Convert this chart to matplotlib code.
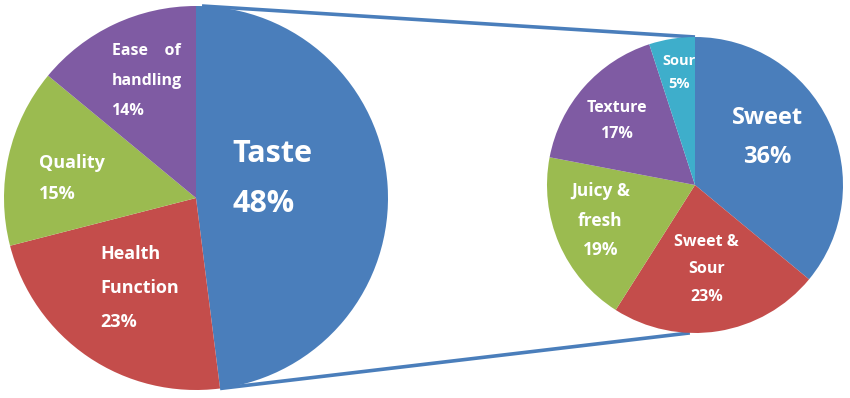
import matplotlib
matplotlib.use('Agg')
import matplotlib.pyplot as plt
import numpy as np

# left pie: reasons for purchase
main_labels = ['Taste', 'Health\nFunction', 'Quality', 'Ease    of\nhandling']
main_values = [48, 23, 15, 14]

# right pie: breakdown of "Taste"
taste_labels = ['Sweet', 'Sweet &\nSour', 'Juicy &\nfresh', 'Texture', 'Sour']
taste_values = [36, 23, 19, 17, 5]

blue, red, green, purple, teal = '#4a7ebb', '#c44d4b', '#9bbb50', '#7f5ba3', '#3eaecb'

# layout in pixel units (figure is 850 x 398)
W, H = 850, 398
c_main, r_main = (196, H - 198), 192
c_taste, r_taste = (695, H - 185), 148

fig = plt.figure(figsize=(W / 100, H / 100), dpi=100)
ax = fig.add_axes([0, 0, 1, 1])

w_main, _ = ax.pie(main_values, colors=[blue, red, green, purple], startangle=90,
                   counterclock=False, center=c_main, radius=r_main,
                   wedgeprops=dict(linewidth=0), frame=True)
w_taste, _ = ax.pie(taste_values, colors=[blue, red, green, purple, teal], startangle=90,
                    counterclock=False, center=c_taste, radius=r_taste,
                    wedgeprops=dict(linewidth=0), frame=True)
ax.set_xlim(0, W)
ax.set_ylim(0, H)
ax.set_aspect('equal')
ax.axis('off')

# connector lines: from the edges of the Taste wedge to the top/bottom of the right pie
def edge_point(center, r, deg):
    return center[0] + r * np.cos(np.radians(deg)), center[1] + r * np.sin(np.radians(deg))

taste_end = w_main[0].theta1  # counterclock=False -> theta1 is the lower end
p_top = edge_point(c_main, r_main, 90)
p_bot = edge_point(c_main, r_main, taste_end)
q_top = edge_point(c_taste, r_taste, 90)
q_bot = edge_point(c_taste, r_taste, -92)
ax.plot([p_top[0] + 6, q_top[0]], [p_top[1], q_top[1]], color=blue, lw=2.6, zorder=0,
        solid_capstyle='butt')
ax.plot([p_bot[0], q_bot[0]], [p_bot[1], q_bot[1]], color=blue, lw=2.6, zorder=0,
        solid_capstyle='butt')

font = 'Open Sans'

# label anchors relative to pie center, in radius units
main_pos = [(0.19, 0.10), (-0.50, -0.47), (-0.82, 0.10), (-0.44, 0.61)]
main_size = [22, 13, 13, 11.5]
main_space = [1.85, 2.15, 1.95, 2.15]
for lab, v, (dx, dy), fs, ls in zip(main_labels, main_values, main_pos, main_size, main_space):
    ax.text(c_main[0] + dx * r_main, c_main[1] + dy * r_main, f'{lab}\n{v}%',
            ha='left', va='center', color='white', fontsize=fs, fontweight='bold',
            family=font, linespacing=ls, multialignment='left')

taste_pos = [(0.49, 0.32), (0.08, -0.57), (-0.64, -0.24), (-0.53, 0.43), (-0.11, 0.76)]
taste_size = [17, 11.5, 12.5, 11.5, 10.5]
taste_space = [1.85, 1.95, 1.85, 1.85, 1.9]
for lab, v, (dx, dy), fs, ls in zip(taste_labels, taste_values, taste_pos, taste_size, taste_space):
    ax.text(c_taste[0] + dx * r_taste, c_taste[1] + dy * r_taste, f'{lab}\n{v}%',
            ha='center', va='center', color='white', fontsize=fs, fontweight='bold',
            family=font, linespacing=ls, multialignment='center')

fig.savefig('out.png', dpi=100)
